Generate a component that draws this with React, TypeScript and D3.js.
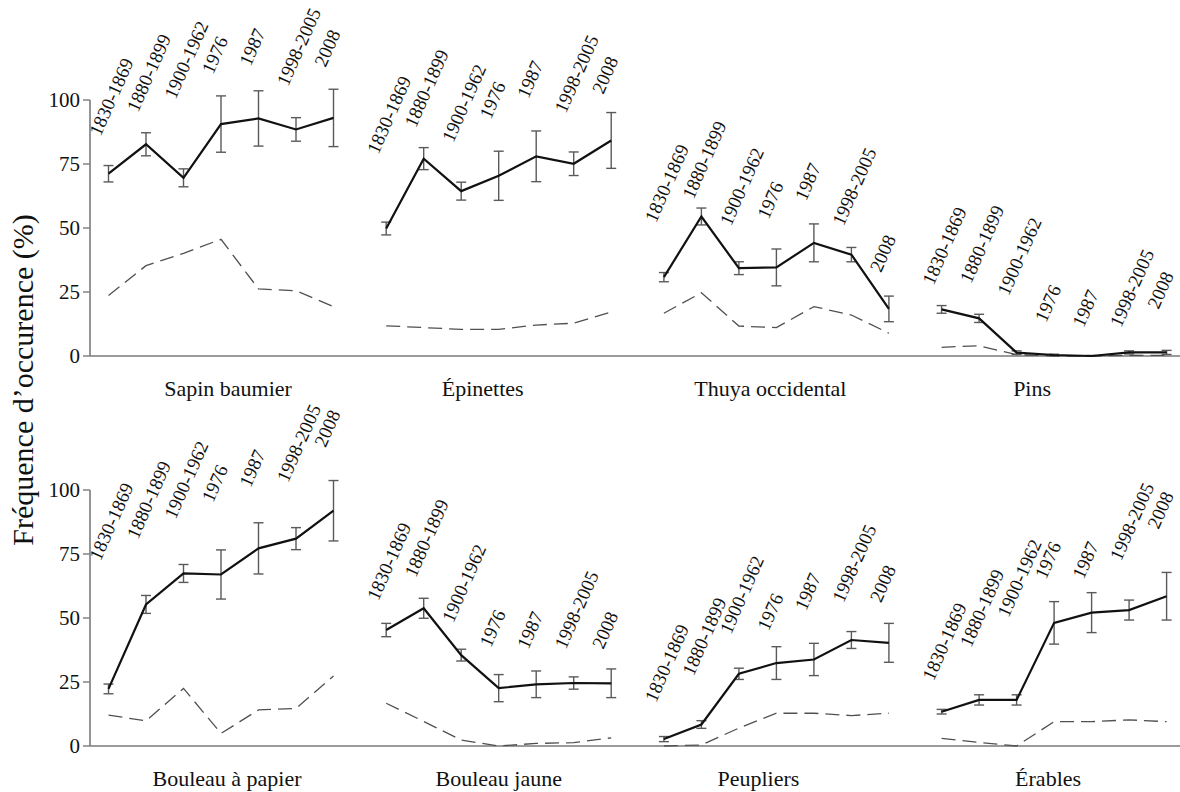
import React from 'react';
import * as d3 from 'd3';

// Sampling periods shared by every species panel
const periods = ['1830-1869', '1880-1899', '1900-1962', '1976', '1987', '1998-2005', '2008'];
const yTicks = [0, 25, 50, 75, 100];

const speciesNames = [
  'Sapin baumier', 'Épinettes', 'Thuya occidental', 'Pins',
  'Bouleau à papier', 'Bouleau jaune', 'Peupliers', 'Érables',
];

// Frequency of occurrence (%) — mean, error half-width, reference (dashed)
const sapinMean = [71.2, 82.7, 69.6, 90.6, 92.8, 88.5, 93.0];
const sapinErr = [3.2, 4.5, 3.5, 11.0, 10.8, 4.6, 11.2];
const sapinRef = [23.6, 35.3, 40.1, 45.6, 26.2, 25.5, 19.3];

const epinettesMean = [49.8, 77.1, 64.4, 70.4, 78.0, 75.1, 84.2];
const epinettesErr = [2.5, 4.3, 3.5, 9.6, 9.9, 4.6, 10.9];
const epinettesRef = [11.8, 11.1, 10.4, 10.4, 12.1, 12.8, 17.2];

const thuyaMean = [30.8, 54.5, 34.3, 34.6, 44.2, 39.6, 18.4];
const thuyaErr = [1.8, 3.3, 2.5, 7.2, 7.4, 2.8, 5.0];
const thuyaRef = [16.7, 24.7, 11.7, 11.1, 19.3, 16.0, 8.9];

const pinsMean = [18.2, 14.7, 1.3, 0.4, 0, 1.4, 1.4];
const pinsErr = [1.5, 1.6, 0.7, 0.3, 0.2, 0.6, 0.8];
const pinsRef = [3.4, 4.0, 0.5, 0, 0, 0.3, 0.2];

const bouleauPapierMean = [22.3, 55.3, 67.4, 67.0, 77.2, 81.0, 91.9];
const bouleauPapierErr = [1.9, 3.5, 3.5, 9.6, 10.0, 4.3, 11.8];
const bouleauPapierRef = [12.1, 9.8, 22.5, 4.9, 14.1, 14.7, 27.3];

const bouleauJauneMean = [45.3, 53.8, 35.5, 22.6, 24.1, 24.6, 24.5];
const bouleauJauneErr = [2.6, 3.9, 2.3, 5.3, 5.2, 2.4, 5.6];
const bouleauJauneRef = [16.7, 9.6, 2.3, 0, 1.0, 1.3, 3.2];

const peupliersMean = [2.7, 8.4, 28.2, 32.4, 33.8, 41.4, 40.3];
const peupliersErr = [1.0, 1.5, 2.2, 6.4, 6.3, 3.3, 7.6];
const peupliersRef = [0, 0.4, 7.0, 12.8, 12.8, 11.9, 12.8];

const erablesMean = [13.4, 18.0, 18.0, 48.1, 52.1, 53.1, 58.5];
const erablesErr = [0.9, 2.0, 2.0, 8.3, 7.8, 3.9, 9.3];
const erablesRef = [3.0, 1.4, 0, 9.5, 9.5, 10.2, 9.5];

// Height (in % units) at which each rotated period label starts
const labelLevels = [
  [85.5, 94.9, 100, 109.8, 112.9, 105.1, 112.5],
  [78.5, 88.9, 83.1, 92.2, 100.3, 94.5, 102],
  [51.8, 60.9, 50.5, 53.1, 60.3, 50.5, 32.3],
  [27.3, 28.0, 23.2, 12.8, 10.8, 10.8, 18.0],
  [72.0, 80.5, 88.3, 94.8, 100.7, 102.6, 116.3],
  [56.4, 65.5, 47.9, 38.2, 37.5, 37.5, 37.5],
  [16.7, 27.1, 43.4, 44.6, 52.5, 55.7, 55.7],
  [25.1, 38.2, 49.9, 64.8, 64.8, 72.0, 84.4],
];

// Horizontal nudge of each panel title from the panel centre
const titleShift = [7, -16, -6, -22, 6, 0, -18, -6];

const means = [sapinMean, epinettesMean, thuyaMean, pinsMean, bouleauPapierMean, bouleauJauneMean, peupliersMean, erablesMean];
const errs = [sapinErr, epinettesErr, thuyaErr, pinsErr, bouleauPapierErr, bouleauJauneErr, peupliersErr, erablesErr];
const refs = [sapinRef, epinettesRef, thuyaRef, pinsRef, bouleauPapierRef, bouleauJauneRef, peupliersRef, erablesRef];

const W = 1180;
const H = 792;
const AXIS_X = 90;
const rowBase = [356, 746];
const rowHeight = 256;
const panelStart = d3.scaleLinear().domain([0, 1]).range([108.5, 386.2]);
const panelSpan = 225;
const AXIS_COLOR = '#7a7a7a';
const serif = { fontFamily: 'Liberation Serif' };

export default function App() {
  const panels = speciesNames.map((name, i) => {
    const row = Math.floor(i / 4);
    const col = i % 4;
    const x0 = panelStart(col);
    const x = d3.scalePoint<string>().domain(periods).range([x0, x0 + panelSpan]);
    const y = d3.scaleLinear().domain([0, 100]).range([rowBase[row], rowBase[row] - rowHeight]);
    const mean = means[i];
    const err = errs[i];
    const ref = refs[i];
    const line = d3.line<number>().x((_, k) => x(periods[k]) as number).y((v) => y(v));
    return (
      <g key={name}>
        <path d={line(ref) || ''} fill="none" stroke="#505050" strokeWidth={1.3} strokeDasharray="14 7" />
        {mean.map((m, k) => {
          const cx = x(periods[k]) as number;
          const yt = y(m + err[k]);
          const yb = y(Math.max(0, m - err[k]));
          return (
            <g key={k} stroke="#5a5a5a" strokeWidth={1.4}>
              <line x1={cx} x2={cx} y1={yt} y2={yb} />
              <line x1={cx - 5} x2={cx + 5} y1={yt} y2={yt} />
              <line x1={cx - 5} x2={cx + 5} y1={yb} y2={yb} />
            </g>
          );
        })}
        <path d={line(mean) || ''} fill="none" stroke="#111" strokeWidth={2.2} strokeLinejoin="miter" />
        {periods.map((p, k) => {
          const lx = (x(p) as number) - 8;
          const ly = y(labelLevels[i][k]);
          return (
            <text key={p} x={lx} y={ly} transform={`rotate(-66 ${lx} ${ly})`} fontSize={19} fill="#111" style={serif}>
              {p}
            </text>
          );
        })}
        <text
          x={x0 + panelSpan / 2 + titleShift[i]}
          y={rowBase[row] + 40}
          textAnchor="middle"
          fontSize={22}
          fill="#111"
          style={serif}
        >
          {name}
        </text>
      </g>
    );
  });

  const axes = rowBase.map((base, r) => {
    const y = d3.scaleLinear().domain([0, 100]).range([base, base - rowHeight]);
    return (
      <g key={r}>
        <line x1={AXIS_X} x2={W} y1={base} y2={base} stroke={AXIS_COLOR} strokeWidth={1.6} />
        <line x1={AXIS_X} x2={AXIS_X} y1={y(100)} y2={base} stroke={AXIS_COLOR} strokeWidth={1.6} />
        {yTicks.map((t) => (
          <g key={t}>
            <line x1={AXIS_X - 7} x2={AXIS_X} y1={y(t)} y2={y(t)} stroke={AXIS_COLOR} strokeWidth={1.4} />
            <text x={AXIS_X - 10} y={y(t)} dy="0.35em" textAnchor="end" fontSize={21} fill="#111" style={serif}>
              {t}
            </text>
          </g>
        ))}
      </g>
    );
  });

  return (
    <svg width={W} height={H} style={{ position: 'absolute', left: 0, top: 0, background: '#fff' }}>
      <rect width={W} height={H} fill="#fff" />
      {axes}
      {panels}
      <text
        x={33}
        y={380}
        transform="rotate(-90 33 380)"
        textAnchor="middle"
        fontSize={30}
        fill="#111"
        style={serif}
      >
        Fréquence d’occurence (%)
      </text>
    </svg>
  );
}
